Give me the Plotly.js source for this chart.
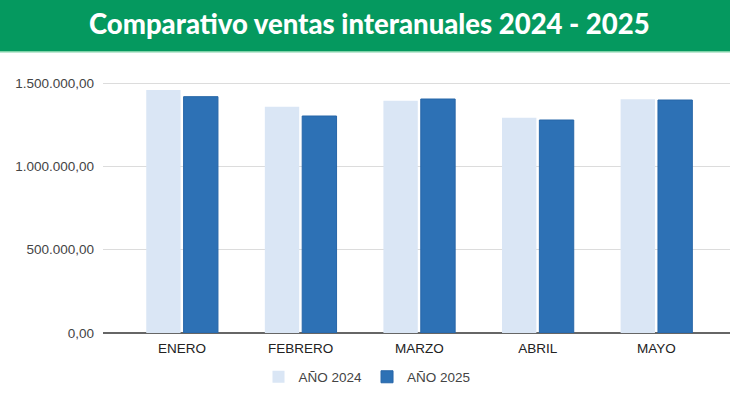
<!DOCTYPE html>
<html><head><meta charset="utf-8">
<script src="https://cdn.plot.ly/plotly-3.0.1.min.js"></script>
<style>html,body{margin:0;padding:0;background:#fff;}#chart{width:730px;height:399px;}</style>
</head><body><div id="chart"></div>
<script>
const categories = ['ENERO', 'FEBRERO', 'MARZO', 'ABRIL', 'MAYO'];
const ventas2024 = [1458000, 1358000, 1394000, 1292000, 1402000];
const ventas2025 = [1418000, 1302000, 1404000, 1278000, 1398000];
const seriesNames = ['AÑO 2024', 'AÑO 2025'];
const yTicks = [0, 500000, 1000000, 1500000];
const chartTitle = 'Comparativo ventas interanuales 2024 - 2025';

const plotTop = 80, plotBottom = 333, H = plotBottom - plotTop;
const py = p => (plotBottom - p) / H;

const traces = [
  {type:'bar', name: seriesNames[0], x: categories, y: ventas2024,
   marker:{color:'#dae6f5', line:{width:0}}},
  {type:'bar', name: seriesNames[1], x: categories, y: ventas2025,
   marker:{color:'#2d71b5', line:{color:'#2766a8', width:1}}}
];

const layout = {
  width:730, height:399,
  margin:{l:103, r:0, t:plotTop, b:399-plotBottom, pad:0},
  paper_bgcolor:'#fff', plot_bgcolor:'#fff',
  separators: ',.',
  barmode:'group', bargap:0.37, bargroupgap:0.08,
  font:{family:'Liberation Sans, Arial, sans-serif', size:13.5, color:'#444'},
  xaxis:{type:'category', range:[-0.667, 4.62], showgrid:false, zeroline:false,
    showline:false, ticks:'', tickfont:{size:13.5, color:'#222'}, ticklabelstandoff:5, fixedrange:true},
  yaxis:{range:[0, (plotBottom-plotTop)/166.667*1e6], tickvals:yTicks, tickformat:',.2f',
    showgrid:true, gridcolor:'#dcdcdc', gridwidth:1, zeroline:true, zerolinecolor:'#666', zerolinewidth:1.5,
    showline:false, ticks:'', tickfont:{size:13.5, color:'#444'}, ticklabelstandoff:8, fixedrange:true},
  showlegend:true,
  legend:{orientation:'h', x:367/730, xanchor:'center', xref:'container', y:(399-377)/399, yref:'container', yanchor:'middle',
    font:{size:13.5, color:'#444'}, itemwidth:30, traceorder:'normal'},
  shapes:[
    {type:'rect', xref:'paper', yref:'paper', x0:-0.2, x1:1.05, y0:py(51), y1:py(-5),
     fillcolor:'#05995f', line:{width:0}, layer:'above'},
    {type:'rect', xref:'paper', yref:'paper', x0:-0.2, x1:1.05, y0:py(52.5), y1:py(51),
     fillcolor:'#7fd2a8', line:{width:0}, layer:'above'}
  ],
  annotations:[
    {text:chartTitle, xref:'paper', yref:'paper', x:(369-103)/627, y:py(24),
     xanchor:'center', yanchor:'middle', showarrow:false,
     font:{family:'Lato, Noto Sans, sans-serif', size:27.5, weight:900, color:'#ffffff'}}
  ]
};
Plotly.newPlot('chart', traces, layout, {displayModeBar:false, staticPlot:true});
</script></body></html>
